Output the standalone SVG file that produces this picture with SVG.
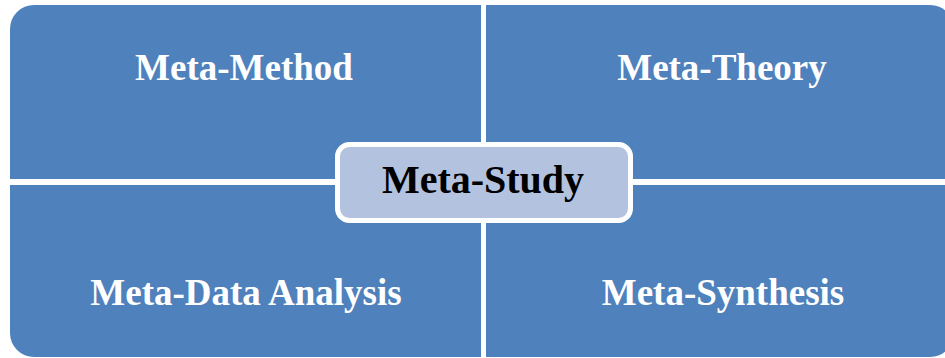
<svg xmlns="http://www.w3.org/2000/svg" width="945" height="358" viewBox="0 0 945 358">
  <style>
    .quad { fill: #4F81BD; }
    .label { font-family: "Liberation Serif", "Times New Roman", serif; font-weight: bold; font-size: 37px; fill: #FFFFFF; text-anchor: middle; }
    .core { fill: #B3C3DF; stroke: #FFFFFF; stroke-width: 5; }
    .core-label { font-family: "Liberation Serif", "Times New Roman", serif; font-weight: bold; font-size: 40px; fill: #000000; text-anchor: middle; }
  </style>
  <rect width="945" height="358" fill="#FFFFFF"/>
  <g id="meta-method">
    <path class="quad" d="M10,179 V29 A24,24 0 0 1 34,5 H481 V179 Z"/>
    <text class="label" x="244" y="80">Meta-Method</text>
  </g>
  <g id="meta-theory">
    <path class="quad" d="M486,5 H930 A24,24 0 0 1 954,29 V179 H486 Z"/>
    <text class="label" x="722" y="80">Meta-Theory</text>
  </g>
  <g id="meta-data-analysis">
    <path class="quad" d="M10,185 H481 V357 H34 A24,24 0 0 1 10,333 Z"/>
    <text class="label" x="246" y="305">Meta-Data Analysis</text>
  </g>
  <g id="meta-synthesis">
    <path class="quad" d="M486,185 H954 V333 A24,24 0 0 1 930,357 H486 Z"/>
    <text class="label" x="723" y="305">Meta-Synthesis</text>
  </g>
  <g id="meta-study">
    <rect class="core" x="337.5" y="144.5" width="293" height="76" rx="12" ry="12"/>
    <text class="core-label" x="483" y="193">Meta-Study</text>
  </g>
  <g id="connectors"/>
</svg>
